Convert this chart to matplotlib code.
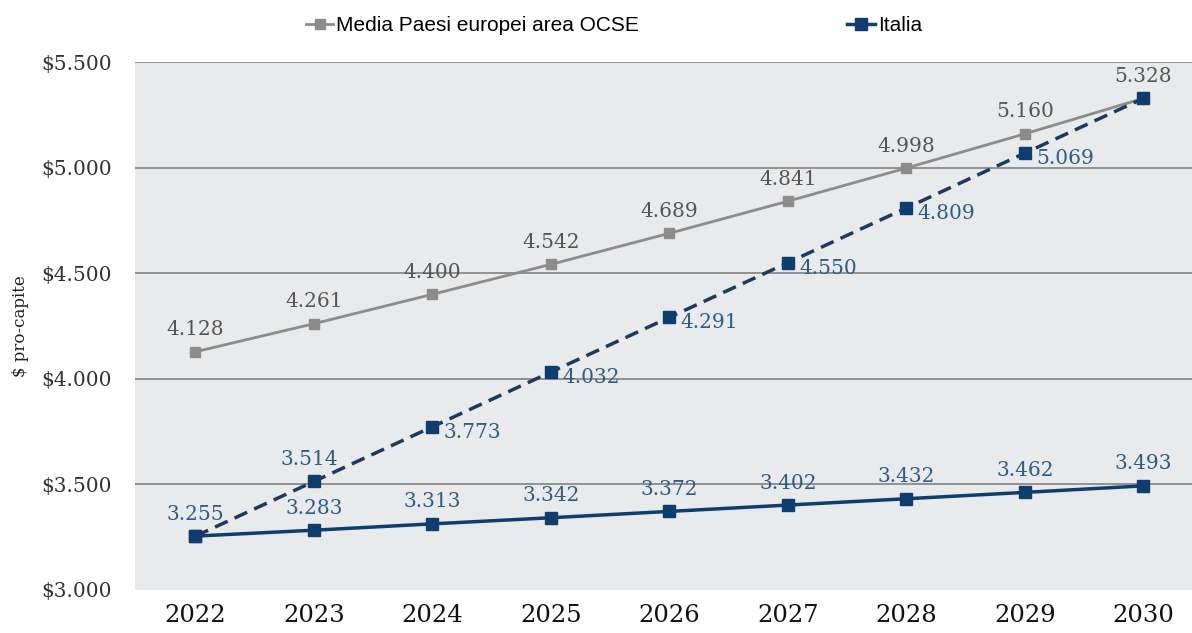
import matplotlib.pyplot as plt

# data
years = [2022, 2023, 2024, 2025, 2026, 2027, 2028, 2029, 2030]
ocse = [4128, 4261, 4400, 4542, 4689, 4841, 4998, 5160, 5328]
italia = [3255, 3283, 3313, 3342, 3372, 3402, 3432, 3462, 3493]
italia_target = [3255, 3514, 3773, 4032, 4291, 4550, 4809, 5069, 5328]
yticks = [3000, 3500, 4000, 4500, 5000, 5500]

grey = "#8c8c8c"
navy = "#0f3d6e"
navy_dash = "#1d3a5c"
grey_txt = "#555555"
blue_txt = "#2e5c85"
serif = "DejaVu Serif"


def fmt(v):
    return f"{v:,}".replace(",", ".")


fig = plt.figure(figsize=(11.92, 6.33), dpi=100)
ax = fig.add_axes([0.1133, 0.068, 0.8867, 0.834])
ax.set_facecolor("#e9eaec")

for y in yticks[1:]:
    ax.axhline(y, color="#8a8a8a", linewidth=1.3, zorder=1)

ax.plot(years, ocse, color=grey, linewidth=2, marker="s", markersize=7,
        label="Media Paesi europei area OCSE", zorder=3)
ax.plot(years, italia_target, color=navy_dash, linewidth=2.5,
        linestyle=(0, (4, 2.2)), marker="s", markersize=8,
        markerfacecolor=navy, markeredgecolor=navy, zorder=4)
ax.plot(years, italia, color=navy, linewidth=2.5, marker="s", markersize=8,
        label="Italia", zorder=4)

# value labels
lab = dict(textcoords="offset points", fontsize=14.5, family=serif)
for x, v in zip(years, ocse):
    ax.annotate(fmt(v), (x, v), xytext=(0, 9), ha="center", va="bottom",
                color=grey_txt, **lab)
for x, v in zip(years, italia):
    ax.annotate(fmt(v), (x, v), xytext=(0, 9), ha="center", va="bottom",
                color=blue_txt, **lab)
for i in range(1, len(years) - 1):
    x, v = years[i], italia_target[i]
    if i == 1:
        ax.annotate(fmt(v), (x, v), xytext=(-3, 9), ha="center", va="bottom",
                    color=blue_txt, **lab)
    else:
        ax.annotate(fmt(v), (x, v), xytext=(8, -4), ha="left", va="center",
                    color=blue_txt, **lab)

ax.set_xlim(2021.49, 2030.41)
ax.set_ylim(3000, 5500)
ax.set_xticks(years)
ax.set_xticklabels([str(y) for y in years], fontsize=17.5, family=serif,
                   color="#111111")
ax.set_yticks(yticks)
ax.set_yticklabels(["$" + fmt(y) for y in yticks], fontsize=14.5, family=serif,
                   color="#333333")
ax.tick_params(length=0)
ax.tick_params(axis="x", pad=10)
ax.tick_params(axis="y", pad=17)
for s in ax.spines.values():
    s.set_visible(False)

ax.set_ylabel("$ pro-capite", fontsize=12, family=serif, color="#222222")
ax.yaxis.set_label_coords(-0.1, 0.5)

fig.legend(loc="center", bbox_to_anchor=(0.515, 0.96), ncol=2, frameon=False,
           columnspacing=10, handlelength=1.3, handletextpad=0.15,
           prop={"family": "Liberation Sans", "size": 15})

fig.savefig("out.png", dpi=100, facecolor="white")
